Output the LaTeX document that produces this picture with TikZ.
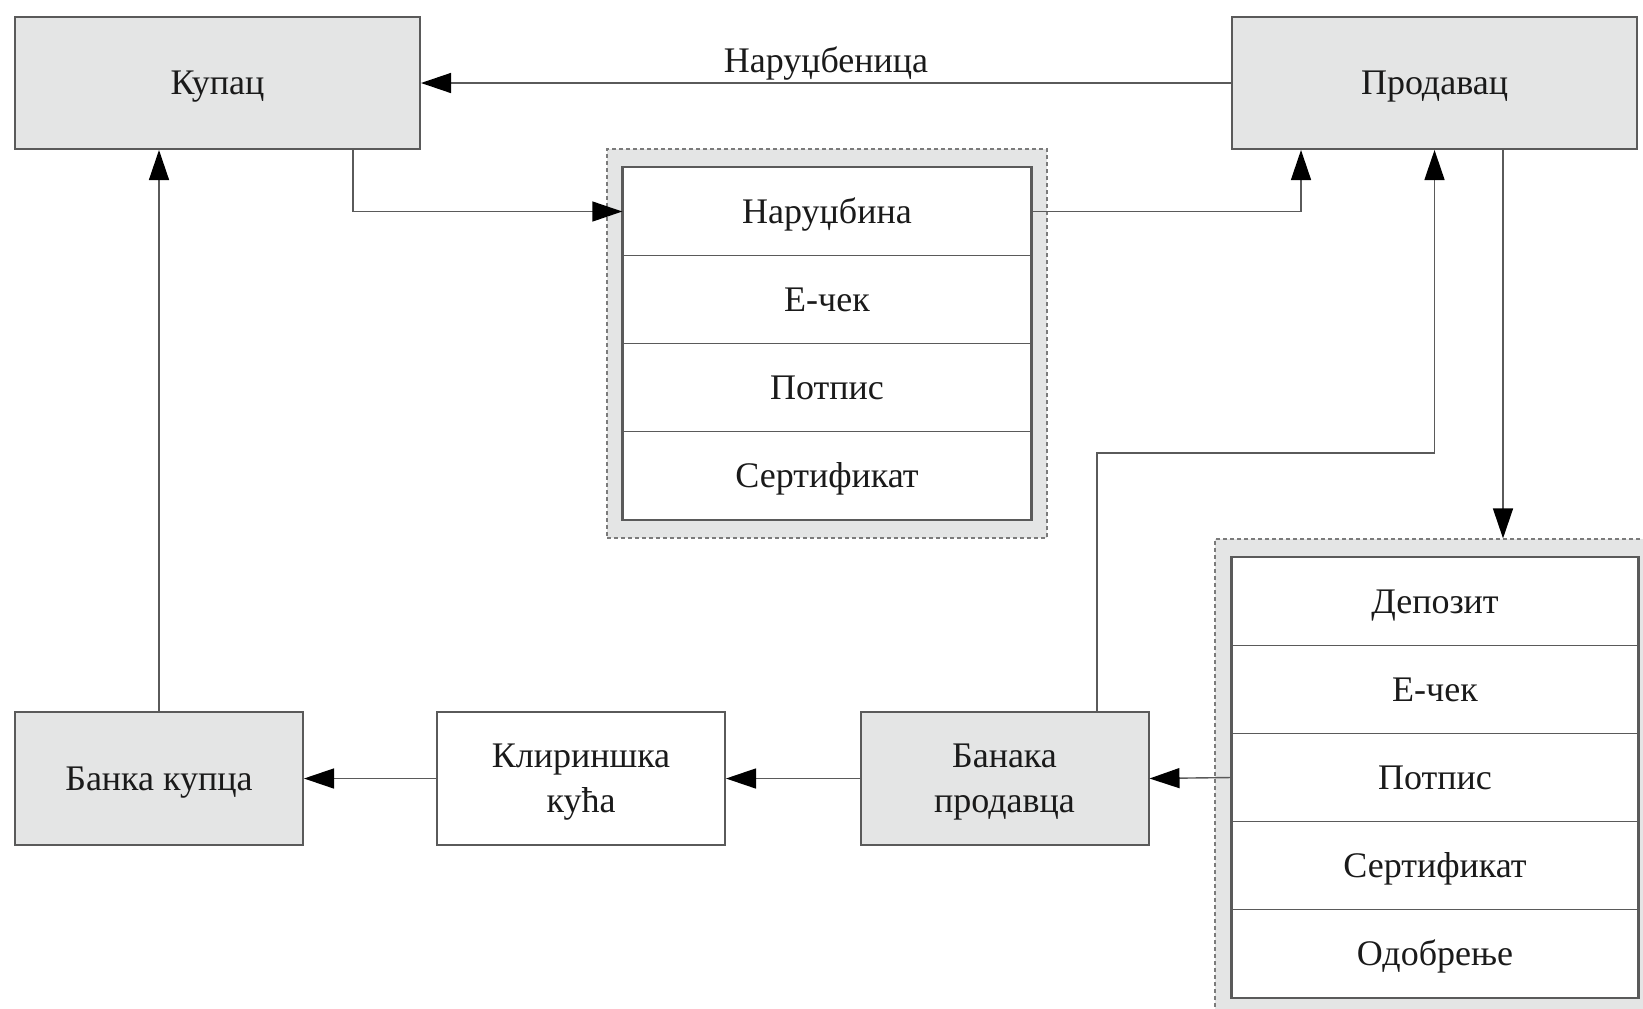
\documentclass[tikz,border=0pt]{standalone}
\usepackage{fontspec}
\setmainfont{Liberation Serif}
\usetikzlibrary{arrows.meta}
\definecolor{boxgray}{HTML}{E4E5E5}
\definecolor{linegray}{HTML}{5A5A5A}
\definecolor{txt}{HTML}{1A1A1A}
\begin{document}
\begin{tikzpicture}[x=0.5pt,y=-0.5pt,
  font=\fontsize{18}{22.5}\selectfont, text=txt,
  capsline/.style={text height=11.8pt, text depth=0pt},
  actor/.style={draw=linegray, line width=1pt, fill=boxgray, minimum width=202.5pt, minimum height=66pt, inner sep=0pt, capsline},
  bank/.style={draw=linegray, line width=1pt, fill=boxgray, minimum width=144pt, minimum height=66.5pt, inner sep=0pt, align=center},
  whitebank/.style={bank, fill=white},
  grp/.style={draw=linegray!80, line width=0.6pt, dash pattern=on 2pt off 1.5pt, fill=boxgray, minimum width=220pt, inner sep=0pt},
  row/.style={draw=linegray, line width=0.7pt, fill=white, minimum width=204pt, minimum height=44pt, inner sep=0pt, capsline},
  frame/.style={draw=linegray, line width=0.9pt},
  conn/.style={draw=linegray, line width=0.7pt, -{Triangle[length=15pt,width=10pt,color=black]}}
]
\useasboundingbox (0,0) rectangle (1643,1008);
\clip (0,0) rectangle (1643,1008);

% participants
\node[actor] (kup) at (217.5,83) {Купац};
\node[actor] (prod) at (1434.5,83) {Продавац};

% order bundle sent by the buyer
\node[grp, minimum height=194.5pt] (og) at (827,343.5) {};
\node[row] (o1) at (827,211.5) {Наруџбина};
\node[row] (o2) at (827,299.5) {Е-чек};
\node[row] (o3) at (827,387.5) {Потпис};
\node[row] (o4) at (827,475.5) {Сертификат};
\draw[frame] (o1.north west) rectangle (o4.south east);

% deposit bundle sent by the seller
\node[grp, minimum height=238pt] (dg) at (1435,777) {};
\node[row, minimum width=203pt] (d1) at (1435,601.5) {Депозит};
\node[row, minimum width=203pt] (d2) at (1435,689.5) {Е-чек};
\node[row, minimum width=203pt] (d3) at (1435,777.5) {Потпис};
\node[row, minimum width=203pt] (d4) at (1435,865.5) {Сертификат};
\node[row, minimum width=203pt] (d5) at (1435,953.5) {Одобрење};
\draw[frame] (d1.north west) rectangle (d5.south east);

% banks
\node[bank, capsline] (bk) at (159,778.5) {Банка купца};
\node[whitebank, text depth=0pt] (kk) at (581,778.5) {Клириншка\\кућа};
\node[bank, text depth=0pt] (bp) at (1004.5,778.5) {Банака\\продавца};

% connectors
\draw[conn] (prod.west) -- node[above=5pt, inner sep=0pt, capsline] {Наруџбеница} (kup.east);
\draw[conn] ([xshift=67.75pt]kup.south) |- (o1.west);
\draw[conn] (o1.east) -| ([xshift=-66.75pt]prod.south);
\draw[conn] (bk.north) -- (bk.north |- kup.south);
\coordinate (pd) at ([xshift=34.25pt]prod.south);
\draw[conn] (pd) -- (pd |- dg.north);
\draw[conn] (d3.west) -- (bp.east);
\draw[conn] (bp.west) -- (kk.east);
\draw[conn] (kk.west) -- (bk.east);
\draw[conn] ([xshift=46.25pt]bp.north) -- ++(0,-258) -| (prod.south);
\end{tikzpicture}
\end{document}
